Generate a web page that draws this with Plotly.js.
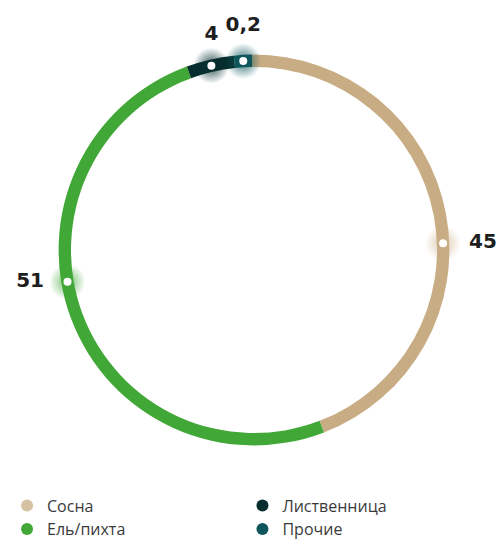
<!DOCTYPE html>
<html>
<head>
<meta charset="utf-8">
<script src="https://cdn.plot.ly/plotly-3.0.1.min.js"></script>
<style>html,body{margin:0;padding:0;background:#fff;}#chart{width:503px;height:542px;}</style>
</head>
<body>
<div id="chart"></div>
<script>
// ---- data ----
const categories = ["Сосна", "Ель/пихта", "Лиственница", "Прочие"];
const values = [45, 51, 4, 0.2];
const valueLabels = ["45", "51", "4", "0,2"];

// ---- styles ----
const colors = ["#C8AC84", "#41A838", "#062E2E", "#0E565B"];
const glowRGB = ["200,172,132", "65,168,56", "6,46,46", "14,86,91"];
const glowAlpha = [0.65, 0.75, 0.85, 0.85];
const minArc = 1.5;          // minimal visible share for tiny segments
const markerFrac = [0.555, 0.56, 0.5, 0.5]; // position of the dot inside each arc
const textPos = ["middle right", "middle left", "top center", "top center"];
const textOffsetSize = [40, 36, 32, 38];
const ringBase = 91.5, ringWidth = 6.2, ringR = ringBase + ringWidth / 2;
// legend placement (paper coords) in reference order
const legendPos = [[0.014, 0.067], [0.014, 0.024], [0.482, 0.067], [0.482, 0.024]];

// ---- geometry from data ----
const shown = values.map(v => Math.max(v, minArc));
const total = shown.reduce((a, b) => a + b, 0);
const spans = shown.map(v => v / total * 360);
const starts = [];
let acc = 0;
spans.forEach(s => { starts.push(acc); acc += s; });
const centers = starts.map((s, i) => s + spans[i] / 2);
const dotTheta = starts.map((s, i) => s + spans[i] * markerFrac[i]);

const noLine = { width: 0, color: "rgba(0,0,0,0)" };
const traces = [];
traces.push({
  type: "barpolar",
  theta: centers,
  width: spans,
  r: categories.map(() => ringWidth),
  base: categories.map(() => ringBase),
  marker: { color: colors, line: noLine },
  showlegend: false,
  hoverinfo: "skip"
});
// glow (radial gradient: centre = gradient colour, edge = marker colour)
traces.push({
  type: "scatterpolar", mode: "markers",
  r: categories.map(() => ringR), theta: dotTheta,
  marker: {
    size: 36,
    color: glowRGB.map(c => "rgba(" + c + ",0)"),
    gradient: { type: "radial", color: glowRGB.map((c, i) => "rgba(" + c + "," + glowAlpha[i] + ")") },
    line: noLine
  },
  showlegend: false, hoverinfo: "skip", cliponaxis: false
});
// white dots
traces.push({
  type: "scatterpolar", mode: "markers",
  r: categories.map(() => ringR), theta: dotTheta,
  marker: { size: 8, color: "#ffffff", line: noLine },
  showlegend: false, hoverinfo: "skip", cliponaxis: false
});
// value labels (invisible markers only set the text offset)
traces.push({
  type: "scatterpolar", mode: "markers+text",
  r: categories.map(() => ringR), theta: dotTheta,
  text: valueLabels, textposition: textPos,
  textfont: { family: "'DejaVu Sans', sans-serif", size: 20, color: "#1e1e1e", weight: 700 },
  marker: { size: textOffsetSize, color: "rgba(0,0,0,0)", opacity: 0, line: noLine },
  showlegend: false, hoverinfo: "skip", cliponaxis: false
});
// legend entries, one legend each
const legendFont = { family: "'Open Sans', 'Noto Sans', sans-serif", size: 16, color: "#3a3a3a" };
const legendLayout = {};
categories.forEach((c, i) => {
  const key = i === 0 ? "legend" : "legend" + (i + 1);
  traces.push({
    type: "scatterpolar", mode: "markers",
    r: [null], theta: [null], name: c,
    marker: { size: 12, color: colors[i], opacity: i === 0 ? 0.75 : 1, line: noLine },
    showlegend: true, legend: key, hoverinfo: "skip"
  });
  legendLayout[key] = {
    x: legendPos[i][0], xanchor: "left", y: legendPos[i][1], yanchor: "middle",
    font: legendFont, bgcolor: "rgba(0,0,0,0)", borderwidth: 0
  };
});

const W = 503, H = 542, cx = 254, cy = 250, Rpx = 240;
const layout = Object.assign({
  width: W, height: H,
  margin: { l: 0, r: 0, t: 0, b: 0, autoexpand: false },
  paper_bgcolor: "#fff", plot_bgcolor: "#fff",
  showlegend: true,
  polar: {
    domain: { x: [(cx - Rpx) / W, (cx + Rpx) / W], y: [(H - cy - Rpx) / H, (H - cy + Rpx) / H] },
    bgcolor: "rgba(0,0,0,0)",
    hole: 0,
    bargap: 0,
    radialaxis: { range: [0, 120], visible: false, showgrid: false },
    angularaxis: { direction: "clockwise", rotation: 90.6, visible: false, showgrid: false }
  },
  font: { family: "'Open Sans', sans-serif" }
}, legendLayout);

Plotly.newPlot("chart", traces, layout, { displayModeBar: false, staticPlot: true });
</script>
</body>
</html>
